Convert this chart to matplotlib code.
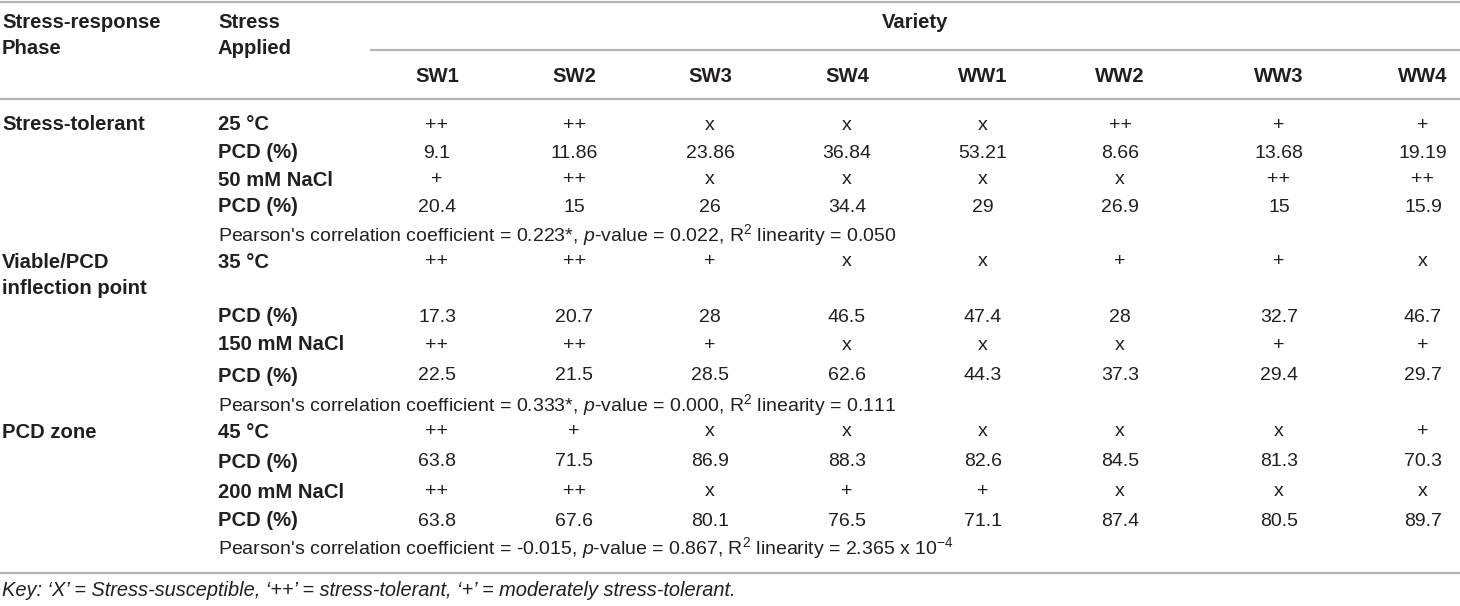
import matplotlib
matplotlib.use("Agg")
import matplotlib.pyplot as plt

plt.rcParams['font.family'] = ['Liberation Sans', 'DejaVu Sans']
plt.rcParams['mathtext.fontset'] = 'custom'
plt.rcParams['mathtext.rm'] = 'Liberation Sans'
plt.rcParams['mathtext.it'] = 'Liberation Sans:italic'
plt.rcParams['mathtext.bf'] = 'Liberation Sans:bold'

varieties = ["SW1", "SW2", "SW3", "SW4", "WW1", "WW2", "WW3", "WW4"]
phases = [["Stress-tolerant"], ["Viable/PCD", "inflection point"], ["PCD zone"]]
stresses = [["25 °C", "50 mM NaCl"], ["35 °C", "150 mM NaCl"], ["45 °C", "200 mM NaCl"]]

responses = [
    [["++", "++", "x", "x", "x", "++", "+", "+"],
     ["+", "++", "x", "x", "x", "x", "++", "++"]],
    [["++", "++", "+", "x", "x", "+", "+", "x"],
     ["++", "++", "+", "x", "x", "x", "+", "+"]],
    [["++", "+", "x", "x", "x", "x", "x", "+"],
     ["++", "++", "x", "+", "+", "x", "x", "x"]],
]
pcd = [
    [["9.1", "11.86", "23.86", "36.84", "53.21", "8.66", "13.68", "19.19"],
     ["20.4", "15", "26", "34.4", "29", "26.9", "15", "15.9"]],
    [["17.3", "20.7", "28", "46.5", "47.4", "28", "32.7", "46.7"],
     ["22.5", "21.5", "28.5", "62.6", "44.3", "37.3", "29.4", "29.7"]],
    [["63.8", "71.5", "86.9", "88.3", "82.6", "84.5", "81.3", "70.3"],
     ["63.8", "67.6", "80.1", "76.5", "71.1", "87.4", "80.5", "89.7"]],
]
pearson_r = ["0.223*", "0.333*", "-0.015"]
p_values = ["0.022", "0.000", "0.867"]
r2_values = ["0.050", "0.111", r"2.365 x 10$^{\mathregular{-4}}$"]
key_text = "Key: \u2018X\u2019 = Stress-susceptible, \u2018++\u2019 = stress-tolerant, \u2018+\u2019 = moderately stress-tolerant."

# layout (pixels)
col_x = [437, 574, 710, 847, 983, 1120, 1279, 1423]
block_rows = [[125, 153, 180, 207, 235],
              [262, 317, 345, 376, 405],
              [432, 462, 492, 521, 548]]
txt = '#231f20'
line_c = '#b4b4b4'
fs_b = 14.6
fs_r = 14.0

fig = plt.figure(figsize=(14.6, 6.06), dpi=100)
ax = fig.add_axes([0, 0, 1, 1])
ax.set_xlim(0, 1460)
ax.set_ylim(606, 0)
ax.axis('off')

for y, x0 in [(1.5, 0), (50, 370), (99, 0), (573, 0)]:
    ax.plot([x0, 1460], [y, y], color=line_c, lw=1.6, solid_capstyle='butt')

ax.text(2, 22, "Stress-response", fontsize=fs_b, weight='bold', color=txt, va='center')
ax.text(2, 49, "Phase", fontsize=fs_b, weight='bold', color=txt, va='center')
ax.text(218, 22, "Stress", fontsize=fs_b, weight='bold', color=txt, va='center')
ax.text(218, 49, "Applied", fontsize=fs_b, weight='bold', color=txt, va='center')
ax.text(915, 23, "Variety", fontsize=fs_b, weight='bold', color=txt, va='center', ha='center')
for x, v in zip(col_x, varieties):
    ax.text(x, 77, v, fontsize=fs_b, weight='bold', color=txt, va='center', ha='center')

for b in range(3):
    rows = block_rows[b]
    for i, ph in enumerate(phases[b]):
        ax.text(2, rows[0] + 26 * i, ph, fontsize=fs_b, weight='bold', color=txt, va='center')
    for k in range(2):
        y_s = rows[2 * k]
        y_p = rows[2 * k + 1]
        ax.text(218, y_s, stresses[b][k], fontsize=fs_b, weight='bold', color=txt, va='center')
        ax.text(218, y_p, "PCD (%)", fontsize=fs_b, weight='bold', color=txt, va='center')
        for x, r, v in zip(col_x, responses[b][k], pcd[b][k]):
            ax.text(x, y_s, r, fontsize=fs_r, color=txt, va='center', ha='center')
            ax.text(x, y_p, v, fontsize=fs_r, color=txt, va='center', ha='center')
    line = ("Pearson's correlation coefficient = " + pearson_r[b] + r", $\it{p}$-value = "
            + p_values[b] + ", R$^{\\mathregular{2}}$ linearity = " + r2_values[b])
    ax.text(218, rows[4], line, fontsize=fs_r, color=txt, va='center')

ax.text(2, 591, key_text, fontsize=14.4, style='italic', color=txt, va='center')

fig.savefig("out.png", dpi=100)
